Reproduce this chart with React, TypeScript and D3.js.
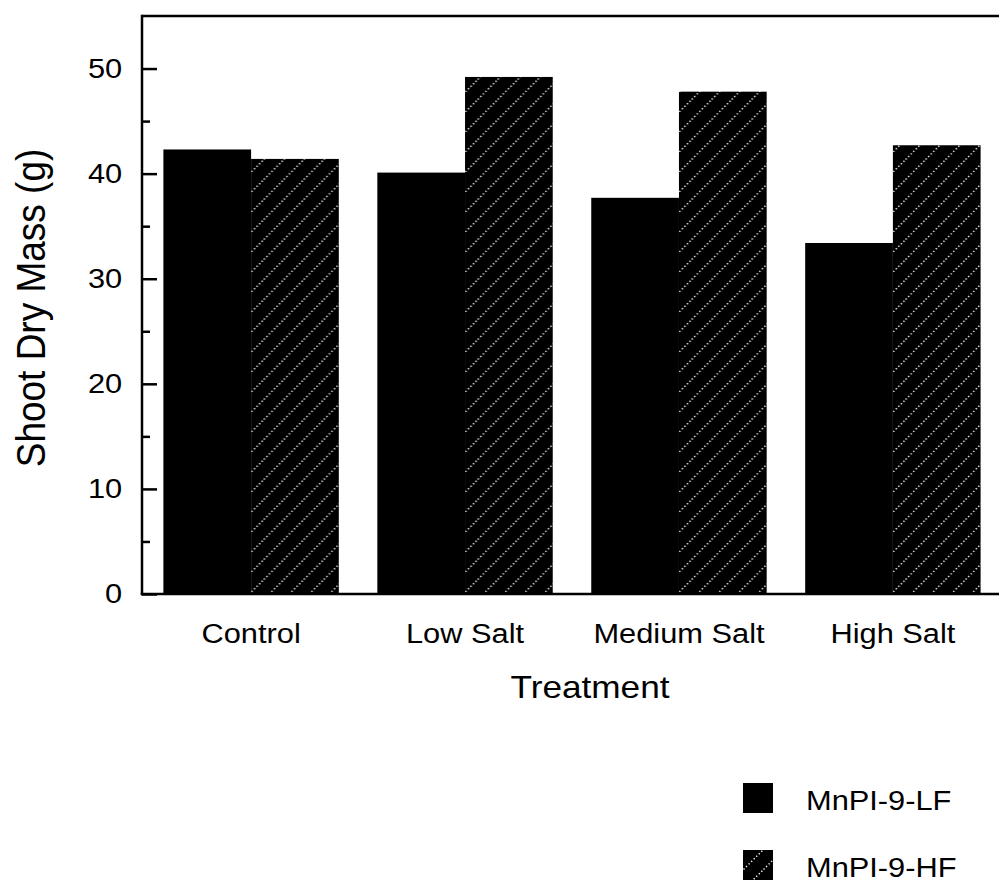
import React, { useEffect, useRef } from "react";
import * as d3 from "d3";

// data
const treatments = ["Control", "Low Salt", "Medium Salt", "High Salt"];
const seriesNames = ["MnPI-9-LF", "MnPI-9-HF"];
const lfValues = [42.3, 40.1, 37.7, 33.4];
const hfValues = [41.4, 49.2, 47.8, 42.7];
const majorTicks = [0, 10, 20, 30, 40, 50];
const minorTicks = [5, 15, 25, 35, 45];

const App = () => {
  const svgRef = useRef<SVGSVGElement>(null);

  useEffect(() => {
    const width = 999;
    const height = 884;
    const font = "'Liberation Sans', Arial, Helvetica, sans-serif";
    const stretch = "scale(1.1,1)"; // the scan is a bit wider than tall

    d3.select(svgRef.current).selectAll("*").remove();

    const svg = d3
      .select(svgRef.current)
      .attr("width", width)
      .attr("height", height);

    // hatch pattern: dotted white diagonals on black
    const defs = svg.append("defs");
    const pat = defs
      .append("pattern")
      .attr("id", "hatch")
      .attr("patternUnits", "userSpaceOnUse")
      .attr("width", 20)
      .attr("height", 20);
    pat.append("rect").attr("width", 20).attr("height", 20).attr("fill", "#000");
    pat
      .append("line")
      .attr("x1", -2)
      .attr("y1", 22)
      .attr("x2", 22)
      .attr("y2", -2)
      .attr("stroke", "#fff")
      .attr("stroke-width", 1.4)
      .attr("stroke-dasharray", "1.3 2.3");

    const left = 142;
    const top = 16;
    const bottom = 594;

    const y = d3.scaleLinear().domain([0, 55]).range([bottom, top]);

    const x = d3
      .scaleBand()
      .domain(treatments)
      .range([left, 1002])
      .paddingInner(0.18)
      .paddingOuter(0.1);

    const xs = d3.scaleBand().domain(seriesNames).range([0, x.bandwidth()]);

    const rows = treatments.map((t, i) => ({
      treatment: t,
      values: [
        { name: seriesNames[0], value: lfValues[i] },
        { name: seriesNames[1], value: hfValues[i] },
      ],
    }));

    const fills: Record<string, string> = {
      [seriesNames[0]]: "#000",
      [seriesNames[1]]: "url(#hatch)",
    };

    // bars
    svg
      .append("g")
      .selectAll("g")
      .data(rows)
      .join("g")
      .attr("transform", (d) => `translate(${x(d.treatment)},0)`)
      .selectAll("rect")
      .data((d) => d.values)
      .join("rect")
      .attr("x", (d) => xs(d.name)!)
      .attr("width", xs.bandwidth())
      .attr("y", (d) => y(d.value))
      .attr("height", (d) => y(0) - y(d.value))
      .attr("fill", (d) => fills[d.name]);

    // frame top line
    svg
      .append("line")
      .attr("x1", left)
      .attr("x2", width + 10)
      .attr("y1", y(55))
      .attr("y2", y(55))
      .attr("stroke", "#000")
      .attr("stroke-width", 2.5);

    // y axis: major ticks
    const yAxis = svg
      .append("g")
      .attr("transform", `translate(${left},0)`)
      .call(
        d3
          .axisLeft(y)
          .tickValues(majorTicks)
          .tickSizeInner(-15)
          .tickSizeOuter(0)
          .tickPadding(18)
      );
    yAxis.select(".domain").remove();
    yAxis.selectAll("line").attr("stroke-width", 2.5);
    yAxis
      .selectAll("text")
      .attr("font-family", font)
      .attr("font-size", 28)
      .attr("fill", "#000")
      .attr("transform", stretch);

    // minor ticks
    const yMinor = svg
      .append("g")
      .attr("transform", `translate(${left},0)`)
      .call(
        d3
          .axisLeft(y)
          .tickValues(minorTicks)
          .tickSizeInner(-8)
          .tickSizeOuter(0)
          .tickFormat(() => "")
      );
    yMinor.select(".domain").remove();
    yMinor.selectAll("line").attr("stroke-width", 2.5);

    svg
      .append("line")
      .attr("x1", left)
      .attr("x2", left)
      .attr("y1", y(55) - 1.25)
      .attr("y2", bottom + 1.25)
      .attr("stroke", "#000")
      .attr("stroke-width", 2.5);

    // x axis
    const xAxis = svg
      .append("g")
      .attr("transform", `translate(0,${bottom})`)
      .call(d3.axisBottom(x).tickSize(0).tickPadding(29));
    xAxis.select(".domain").remove();
    xAxis
      .selectAll("text")
      .attr("font-family", font)
      .attr("font-size", 28)
      .attr("fill", "#000")
      .attr("transform", stretch);
    svg
      .append("line")
      .attr("x1", left - 1.25)
      .attr("x2", width + 10)
      .attr("y1", bottom)
      .attr("y2", bottom)
      .attr("stroke", "#000")
      .attr("stroke-width", 2.5);

    // axis titles
    svg
      .append("text")
      .attr("transform", `translate(590,698) ${stretch}`)
      .attr("text-anchor", "middle")
      .attr("font-family", font)
      .attr("font-size", 32)
      .text("Treatment");

    svg
      .append("text")
      .attr("transform", "translate(45,308) rotate(-90) scale(1,1.1)")
      .attr("text-anchor", "middle")
      .attr("font-family", font)
      .attr("font-size", 37)
      .text("Shoot Dry Mass (g)");

    // legend
    const legend = svg
      .append("g")
      .selectAll("g")
      .data(seriesNames)
      .join("g")
      .attr("transform", (_d, i) => `translate(743,${783 + i * 67})`);
    legend
      .append("rect")
      .attr("width", 30)
      .attr("height", 30)
      .attr("fill", (d) => fills[d]);
    legend
      .append("text")
      .attr("transform", `translate(63,27) ${stretch}`)
      .attr("font-family", font)
      .attr("font-size", 28)
      .text((d) => d);
  }, []);

  return (
    <svg
      ref={svgRef}
      style={{ position: "absolute", left: 0, top: 0, background: "#fff" }}
    ></svg>
  );
};

export default App;
